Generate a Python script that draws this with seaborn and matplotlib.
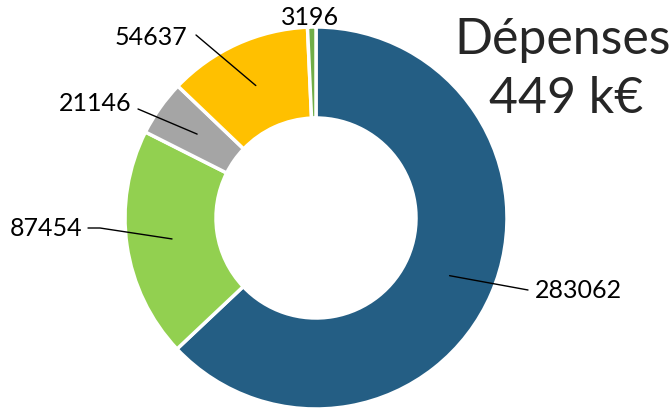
import matplotlib
matplotlib.use("Agg")
import matplotlib.pyplot as plt
import seaborn as sns
import numpy as np

# data, clockwise from the top
values = [283062, 87454, 21146, 54637, 3196]
labels = ["283062", "87454", "21146", "54637", "3196"]
colors = ["#245E84", "#92D050", "#A5A5A5", "#FFC000", "#70AD47"]
title_lines = ["Dépenses", "449 k€"]

W, H = 671, 412
CENTER = (316, H - 218)
R_OUT = 191
RING = 91

# label text positions (image px) and leader line elbows
label_pos = [(535, 290, "left"), (82, 228, "right"), (132, 103, "right"),
             (187, 37, "right"), (310, 17, "center")]
elbows = [(528, 290), (100, 228), (138, 109), (196, 35), None]

sns.set_theme(style="white")
plt.rcParams["font.family"] = ["Lato", "DejaVu Sans"]

fig = plt.figure(figsize=(W / 100, H / 100), dpi=100)
ax = fig.add_axes([0, 0, 1, 1])

wedges, _ = ax.pie(
    values, colors=colors, startangle=90, counterclock=False,
    center=CENTER, radius=R_OUT,
    wedgeprops=dict(width=RING, edgecolor="white", linewidth=2.5),
)
ax.set_xlim(0, W)
ax.set_ylim(0, H)
ax.set_aspect("equal")
ax.axis("off")

r_mid = R_OUT - RING / 2
for w, lab, (tx, ty, ha), elb in zip(wedges, labels, label_pos, elbows):
    ang = np.deg2rad((w.theta1 + w.theta2) / 2)
    ax_, ay_ = CENTER[0] + r_mid * np.cos(ang), CENTER[1] + r_mid * np.sin(ang)
    if elb is not None:
        ex, ey = elb
        xs = [ax_, ex]
        ys = [ay_, H - ey]
        if ha == "right" and lab == "87454":
            xs.append(88)
            ys.append(H - ey)
        ax.plot(xs, ys, color="black", lw=1)
    ax.text(tx, H - ty, lab, ha=ha, va="center", fontsize=18, color="black")

ax.text(563, H - 40, title_lines[0], ha="center", va="center", fontsize=36)
ax.text(566, H - 99, title_lines[1], ha="center", va="center", fontsize=36)

fig.savefig("out.png", dpi=100)
